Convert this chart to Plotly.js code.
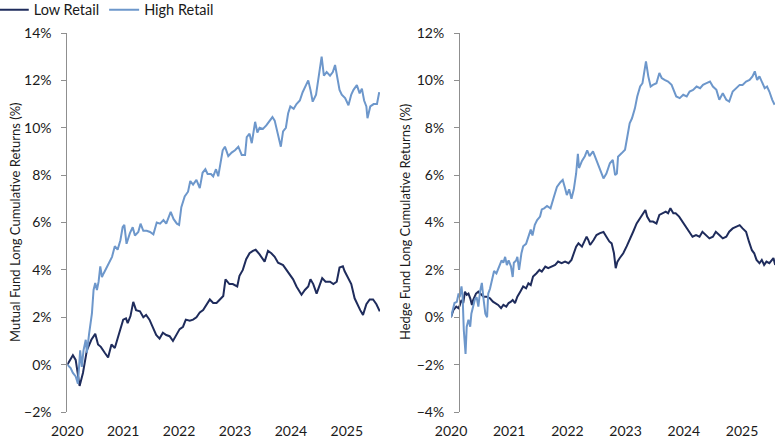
<!DOCTYPE html>
<html>
<head>
<meta charset="utf-8">
<script src="https://cdn.plot.ly/plotly-3.0.1.min.js"></script>
<style>html,body{margin:0;padding:0;background:#fff;}#chart{width:780px;height:440px;}</style>
</head>
<body>
<div id="chart"></div>
<script>
// ---------- Data ----------
const seriesNames = ["Low Retail", "High Retail"];
const yearTicks = [2020, 2021, 2022, 2023, 2024, 2025];
const yearLabels = ["2020", "2021", "2022", "2023", "2024", "2025"];
const leftTitle = "Mutual Fund Long Cumulative Returns (%)";
const rightTitle = "Hedge Fund Long Cumulative Returns (%)";

// Mutual fund, Low Retail
const mfLowYr = [2020.00,2020.10,2020.15,2020.19,2020.22,2020.28,2020.35,2020.43,2020.50,2020.55,2020.60,2020.67,2020.73,2020.79,2020.85,2020.90,2020.97,2021.00,2021.05,2021.08,2021.13,2021.18,2021.23,2021.30,2021.36,2021.41,2021.47,2021.53,2021.59,2021.65,2021.71,2021.77,2021.83,2021.89,2021.95,2022.01,2022.07,2022.12,2022.19,2022.25,2022.31,2022.37,2022.43,2022.49,2022.55,2022.61,2022.67,2022.73,2022.79,2022.83,2022.90,2022.96,2023.04,2023.08,2023.14,2023.20,2023.26,2023.32,2023.37,2023.44,2023.53,2023.59,2023.65,2023.71,2023.77,2023.86,2023.92,2023.98,2024.04,2024.10,2024.19,2024.25,2024.31,2024.35,2024.40,2024.46,2024.52,2024.56,2024.62,2024.70,2024.76,2024.82,2024.87,2024.93,2024.96,2025.02,2025.08,2025.14,2025.20,2025.24,2025.29,2025.35,2025.41,2025.47,2025.53,2025.59];
const mfLowVal = [0.0,0.4,0.2,-0.5,-0.9,-0.35,0.6,1.05,1.3,0.85,0.75,0.5,0.3,0.85,0.7,1.1,1.6,1.9,1.95,1.75,2.05,2.65,2.3,2.25,2.0,2.1,1.9,1.6,1.25,1.1,1.35,1.25,1.2,1.0,1.25,1.5,1.6,1.9,1.85,1.9,2.0,2.2,2.3,2.55,2.75,2.6,2.6,2.75,2.9,3.6,3.4,3.4,3.3,3.75,4.0,4.45,4.7,4.8,4.85,4.65,4.35,4.8,4.7,4.55,4.3,4.2,4.0,3.8,3.6,3.3,2.95,3.15,3.3,3.6,3.4,3.0,3.4,3.65,3.5,3.5,3.4,3.5,4.1,4.15,3.95,3.65,3.4,2.8,2.45,2.3,2.1,2.55,2.75,2.75,2.55,2.25];

// Mutual fund, High Retail
const mfHighYr = [2020.00,2020.06,2020.10,2020.15,2020.19,2020.23,2020.26,2020.29,2020.33,2020.35,2020.39,2020.44,2020.47,2020.50,2020.53,2020.56,2020.59,2020.62,2020.65,2020.71,2020.77,2020.80,2020.85,2020.90,2020.95,2020.99,2021.02,2021.06,2021.12,2021.17,2021.21,2021.27,2021.31,2021.36,2021.42,2021.48,2021.54,2021.60,2021.66,2021.72,2021.77,2021.85,2021.90,2021.96,2022.00,2022.04,2022.10,2022.16,2022.20,2022.25,2022.31,2022.37,2022.42,2022.47,2022.51,2022.57,2022.61,2022.66,2022.70,2022.74,2022.78,2022.82,2022.88,2022.94,2023.00,2023.06,2023.12,2023.18,2023.21,2023.26,2023.30,2023.36,2023.40,2023.44,2023.50,2023.56,2023.62,2023.67,2023.71,2023.75,2023.79,2023.82,2023.86,2023.91,2023.95,2023.99,2024.05,2024.10,2024.16,2024.21,2024.27,2024.31,2024.35,2024.39,2024.45,2024.49,2024.52,2024.55,2024.59,2024.64,2024.70,2024.75,2024.79,2024.83,2024.87,2024.91,2024.97,2025.03,2025.08,2025.12,2025.18,2025.23,2025.27,2025.31,2025.35,2025.37,2025.42,2025.48,2025.54,2025.58];
const mfHighVal = [0.0,-0.15,-0.35,-0.5,-0.8,0.6,-0.1,0.6,1.05,0.5,1.3,2.15,3.15,3.45,3.15,3.5,4.15,3.7,3.85,4.15,4.4,4.55,5.0,4.85,5.25,5.8,5.9,5.1,5.55,5.8,5.45,5.6,5.95,5.65,5.65,5.6,5.5,6.0,5.95,6.1,5.95,6.45,6.15,5.95,5.9,6.65,7.1,7.3,7.75,7.6,7.8,7.45,8.1,8.25,8.05,8.05,7.95,8.25,7.95,8.6,9.05,9.2,8.8,8.95,9.05,9.2,8.85,8.85,9.6,9.75,9.35,10.25,9.8,10.0,9.95,10.1,10.3,10.45,10.3,9.85,9.45,9.2,9.85,10.0,10.6,10.9,10.8,11.0,11.15,11.5,11.8,12.0,11.6,11.1,11.4,12.0,12.65,13.0,12.2,12.35,12.2,12.35,12.65,12.15,11.6,11.4,11.25,10.95,11.4,11.6,11.8,11.45,11.65,11.15,10.9,10.4,10.9,11.0,11.0,11.5];

// Hedge fund, Low Retail
const hfLowYr = [2020.00,2020.04,2020.09,2020.13,2020.15,2020.18,2020.21,2020.24,2020.27,2020.30,2020.33,2020.36,2020.38,2020.43,2020.47,2020.51,2020.56,2020.61,2020.67,2020.72,2020.76,2020.81,2020.86,2020.90,2020.95,2020.99,2021.03,2021.06,2021.10,2021.14,2021.19,2021.24,2021.29,2021.33,2021.37,2021.41,2021.47,2021.52,2021.56,2021.62,2021.67,2021.73,2021.79,2021.84,2021.90,2021.96,2022.02,2022.07,2022.10,2022.15,2022.19,2022.25,2022.29,2022.33,2022.36,2022.39,2022.45,2022.50,2022.56,2022.62,2022.67,2022.72,2022.76,2022.80,2022.83,2022.86,2022.90,2022.96,2023.02,2023.07,2023.13,2023.19,2023.25,2023.30,2023.34,2023.37,2023.42,2023.47,2023.53,2023.58,2023.63,2023.69,2023.73,2023.77,2023.82,2023.86,2023.92,2023.98,2024.04,2024.09,2024.15,2024.21,2024.27,2024.32,2024.38,2024.44,2024.50,2024.55,2024.61,2024.67,2024.73,2024.78,2024.84,2024.90,2024.96,2025.01,2025.07,2025.12,2025.17,2025.21,2025.25,2025.30,2025.34,2025.38,2025.42,2025.47,2025.51,2025.54,2025.57];
const hfLowVal = [0.0,0.3,0.45,0.38,0.5,0.73,0.6,1.08,0.95,1.0,0.8,0.52,0.73,1.0,1.08,1.0,0.87,0.87,0.8,0.66,0.6,0.52,0.38,0.52,0.45,0.6,0.66,0.73,0.6,0.87,1.08,1.3,1.22,1.43,1.36,1.72,1.86,2.0,1.93,2.14,2.07,2.14,2.21,2.35,2.28,2.35,2.28,2.42,2.63,2.98,3.12,2.98,3.19,3.4,3.26,3.05,3.26,3.47,3.55,3.6,3.4,3.2,3.12,2.7,2.07,2.35,2.5,2.7,3.0,3.26,3.61,3.96,4.18,4.39,4.53,4.25,4.04,4.04,3.96,4.32,4.39,4.46,4.39,4.6,4.39,4.39,4.25,4.04,3.82,3.61,3.4,3.47,3.4,3.61,3.47,3.33,3.4,3.61,3.47,3.33,3.4,3.61,3.75,3.82,3.89,3.75,3.61,3.19,2.83,2.7,2.42,2.28,2.42,2.21,2.35,2.28,2.42,2.5,2.21];

// Hedge fund, High Retail
const hfHighYr = [2020.00,2020.03,2020.06,2020.10,2020.13,2020.15,2020.18,2020.20,2020.22,2020.25,2020.27,2020.30,2020.33,2020.35,2020.38,2020.41,2020.44,2020.47,2020.50,2020.53,2020.56,2020.59,2020.62,2020.64,2020.67,2020.72,2020.74,2020.78,2020.83,2020.87,2020.90,2020.93,2020.96,2020.99,2021.03,2021.06,2021.08,2021.12,2021.14,2021.17,2021.21,2021.24,2021.29,2021.33,2021.37,2021.40,2021.44,2021.48,2021.53,2021.56,2021.60,2021.65,2021.71,2021.77,2021.82,2021.88,2021.92,2021.96,2021.99,2022.03,2022.07,2022.11,2022.15,2022.18,2022.20,2022.25,2022.30,2022.34,2022.38,2022.44,2022.50,2022.56,2022.62,2022.67,2022.73,2022.78,2022.82,2022.85,2022.87,2022.93,2022.99,2023.03,2023.07,2023.11,2023.16,2023.20,2023.25,2023.29,2023.32,2023.35,2023.39,2023.43,2023.47,2023.53,2023.58,2023.62,2023.67,2023.73,2023.79,2023.83,2023.87,2023.93,2023.99,2024.05,2024.10,2024.16,2024.22,2024.28,2024.33,2024.39,2024.45,2024.50,2024.56,2024.61,2024.67,2024.73,2024.78,2024.84,2024.90,2024.96,2025.01,2025.07,2025.13,2025.18,2025.22,2025.26,2025.30,2025.35,2025.39,2025.43,2025.47,2025.52,2025.56];
const hfHighVal = [0.0,0.3,0.6,0.65,1.0,0.85,1.3,0.85,-0.55,-1.55,-0.4,-0.1,-0.4,0.15,0.45,0.75,0.85,0.45,1.1,1.45,0.75,0.15,0.0,1.0,1.2,1.7,1.95,1.85,2.15,2.4,2.3,2.55,2.2,2.4,2.15,1.7,2.3,2.4,2.55,2.0,2.7,3.0,3.1,3.4,3.7,3.45,3.9,4.1,4.25,4.55,4.6,4.7,4.6,5.1,5.5,5.7,5.8,5.45,5.16,5.4,5.0,5.4,6.07,6.9,6.3,6.6,6.8,7.05,6.8,7.0,6.6,6.2,5.86,6.07,6.5,6.64,6.0,6.07,6.78,6.92,7.07,7.63,8.19,8.4,8.82,9.32,9.74,9.88,10.45,10.8,10.17,9.74,9.81,9.88,10.31,10.1,10.02,9.95,9.81,9.6,9.32,9.25,9.39,9.32,9.53,9.6,9.74,9.67,9.81,9.88,9.95,9.74,9.6,9.18,9.46,9.18,9.11,9.53,9.67,9.81,9.81,9.95,10.02,10.17,10.38,10.02,10.17,9.88,9.67,9.74,9.53,9.18,8.97];

// ---------- Styling ----------
const lowColor = "#1f2c5c";
const highColor = "#6d97cb";
const axisColor = "#8f8f8f";
const textColor = "#1a1a1a";
const fontFamily = "Lato, 'Open Sans', sans-serif";

const traces = [
  {x: mfLowYr, y: mfLowVal, name: seriesNames[0], type: "scatter", mode: "lines", xaxis: "x", yaxis: "y",
   line: {color: lowColor, width: 2}, legendgroup: "low"},
  {x: mfHighYr, y: mfHighVal, name: seriesNames[1], type: "scatter", mode: "lines", xaxis: "x", yaxis: "y",
   line: {color: highColor, width: 2}, legendgroup: "high"},
  {x: hfLowYr, y: hfLowVal, name: seriesNames[0], type: "scatter", mode: "lines", xaxis: "x2", yaxis: "y2",
   line: {color: lowColor, width: 2}, legendgroup: "low", showlegend: false},
  {x: hfHighYr, y: hfHighVal, name: seriesNames[1], type: "scatter", mode: "lines", xaxis: "x2", yaxis: "y2",
   line: {color: highColor, width: 2}, legendgroup: "high", showlegend: false}
];

const W = 780, H = 440;
const yTop = 33, yBot = 412;
const yDom = [1 - yBot / H, 1 - yTop / H];
const leftRange = [2020, 2025.594];
const rightRange = [2020, 2025.567];

function bottomAxis(domain, range, anchor) {
  return {domain: domain, range: range, anchor: anchor, showline: false, showgrid: false, zeroline: false,
          ticks: "", tickmode: "array", tickvals: yearTicks, ticktext: yearLabels, ticklabelstandoff: 9,
          automargin: false,
          tickfont: {family: fontFamily, size: 14, color: textColor}, fixedrange: true};
}
function zeroAxis(overlay, range, pos) {
  return {overlaying: overlay, anchor: "free", position: pos, range: range, showline: true, linecolor: axisColor,
          linewidth: 1, ticks: "outside", ticklen: 5, tickcolor: axisColor, tickmode: "array", tickvals: yearTicks,
          showticklabels: false, showgrid: false, zeroline: false, automargin: false};
}
function leftAxis(range, extra) {
  return Object.assign({domain: yDom, range: range, dtick: 2, tick0: 0, ticksuffix: "%", showline: true,
          linecolor: axisColor, linewidth: 1, ticks: "outside", ticklen: 5, tickcolor: axisColor,
          ticklabelstandoff: 7, automargin: false,
          showgrid: false, zeroline: false, tickfont: {family: fontFamily, size: 14, color: textColor}}, extra);
}

const layout = {
  width: W, height: H,
  margin: {l: 0, r: 0, t: 0, b: 0, autoexpand: false},
  paper_bgcolor: "#ffffff", plot_bgcolor: "#ffffff",
  font: {family: fontFamily, size: 13, color: textColor},
  showlegend: true,
  legend: {orientation: "h", x: -0.008, y: 1.014, xanchor: "left", yanchor: "top",
           font: {family: fontFamily, size: 14.5, color: textColor}, itemwidth: 30, tracegroupgap: 0},
  xaxis: bottomAxis([67.3 / W, 380 / W], leftRange, "y"),
  yaxis: leftAxis([-2, 14], {anchor: "x"}),
  xaxis2: bottomAxis([451 / W, 775 / W], rightRange, "y2"),
  yaxis2: leftAxis([-4, 12], {anchor: "free", position: 459 / W}),
  xaxis3: zeroAxis("x", leftRange, 1 - 364.6 / H),
  xaxis4: zeroAxis("x2", rightRange, 1 - 317.3 / H),
  annotations: [
    {text: leftTitle, xref: "paper", yref: "paper", x: 15 / W, y: 1 - 222 / H, textangle: -90,
     showarrow: false, xanchor: "center", yanchor: "middle", font: {family: fontFamily, size: 13, color: textColor}},
    {text: rightTitle, xref: "paper", yref: "paper", x: 405 / W, y: 1 - 222 / H, textangle: -90,
     showarrow: false, xanchor: "center", yanchor: "middle", font: {family: fontFamily, size: 13, color: textColor}}
  ]
};

Plotly.newPlot("chart", traces, layout, {staticPlot: true, displayModeBar: false});
</script>
</body>
</html>
